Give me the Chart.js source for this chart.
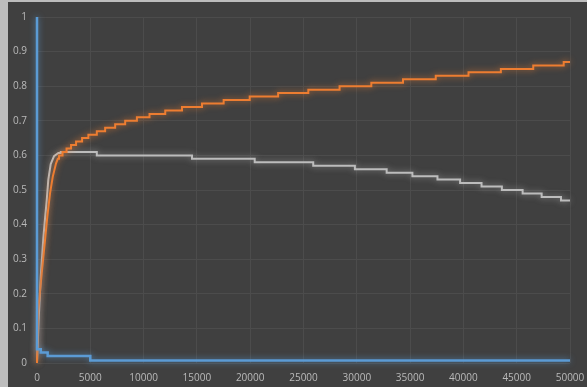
<!DOCTYPE html>
<html>
<head>
<meta charset="utf-8">
<script src="https://cdn.jsdelivr.net/npm/chart.js@4.4.1/dist/chart.umd.min.js"></script>
<style>
  html, body { margin: 0; padding: 0; background: #404040; }
  #wrap { position: relative; width: 587px; height: 387px; }
  canvas { display: block; }
</style>
</head>
<body>
<div id="wrap"><canvas id="c" width="587" height="387"></canvas></div>
<script>
// Axis ticks
const xTicks = [0, 5000, 10000, 15000, 20000, 25000, 30000, 35000, 40000, 45000, 50000];
const yTicks = [0, 0.1, 0.2, 0.3, 0.4, 0.5, 0.6, 0.7, 0.8, 0.9, 1];
const xEnd = 50000;

// Blue series: starts at 1, falls away almost at once
const blueCurveX = [0];
const blueCurveY = [1];
const blueStepX = [0, 350, 1000, 5000];
const blueStepY = [0.04, 0.03, 0.02, 0.007];

// Orange series: fast rise, then a slow staircase climb
const orangeCurveX = [0, 122, 442, 752, 968, 1222, 1476, 1786, 1950];
const orangeCurveY = [0, 0.153, 0.259, 0.355, 0.423, 0.49, 0.538, 0.577, 0.59];
const orangeStepX = [2068, 2397, 2772, 3195, 3665, 4229, 4821, 5611, 6391, 7331, 8271, 9371,
  10555, 12030, 13600, 15480, 17509, 19952, 22621, 25451, 28383, 31362, 34333, 37406,
  40479, 43515, 46551, 49408];
const orangeStepY = [0.60, 0.61, 0.62, 0.63, 0.64, 0.65, 0.66, 0.67, 0.68, 0.69, 0.70, 0.71,
  0.72, 0.73, 0.74, 0.75, 0.76, 0.77, 0.78, 0.79, 0.80, 0.81, 0.82, 0.83,
  0.84, 0.85, 0.86, 0.87];

// Gray series: fast rise to a plateau, then a staircase decline
const grayCurveX = [0, 150, 350, 592, 760, 912, 1062, 1288, 1598, 2002];
const grayCurveY = [0, 0.12, 0.25, 0.36, 0.42, 0.47, 0.53, 0.575, 0.598, 0.607];
const grayStepX = [2228, 5611, 14539, 20423, 25912, 29821, 32801, 35216, 37566, 39690,
  41701, 43609, 45555, 47340, 49154];
const grayStepY = [0.61, 0.60, 0.59, 0.58, 0.57, 0.56, 0.55, 0.54, 0.53, 0.52,
  0.51, 0.50, 0.49, 0.48, 0.47];

// Turn a smooth lead-in plus a list of level changes into line points
function buildPoints(curveX, curveY, stepX, stepY, endX) {
  const pts = curveX.map((x, i) => ({ x: x, y: curveY[i] }));
  let level = curveY[curveY.length - 1];
  stepX.forEach((x, i) => {
    pts.push({ x: x, y: level });
    level = stepY[i];
    pts.push({ x: x, y: level });
  });
  pts.push({ x: endX, y: level });
  return pts;
}

const glowColors = {
  blue: 'rgba(91,155,213,0.75)',
  orange: 'rgba(237,125,49,0.8)',
  gray: 'rgba(200,200,200,0.6)'
};

// Soft halo around each line
const glowPlugin = {
  id: 'glow',
  beforeDatasetDraw(chart, args) {
    const ds = chart.data.datasets[args.index];
    const ctx = chart.ctx;
    ctx.save();
    ctx.shadowColor = glowColors[ds.label];
    ctx.shadowBlur = 6;
    ctx.shadowOffsetX = 0;
    ctx.shadowOffsetY = 0;
  },
  afterDatasetDraw(chart) {
    chart.ctx.restore();
  }
};

// Frame: light edge on the left and top, dark panel elsewhere
const framePlugin = {
  id: 'frame',
  beforeDraw(chart) {
    const ctx = chart.ctx;
    ctx.save();
    ctx.fillStyle = '#bdbdbd';
    ctx.fillRect(0, 0, chart.width, chart.height);
    ctx.fillStyle = '#404040';
    ctx.fillRect(8, 2, chart.width - 8, chart.height - 2);
    ctx.restore();
  }
};

const tickFont = { family: '"Open Sans", sans-serif', size: 10 };
const tickColor = '#bababa';
const gridColor = '#4c4c4c';

new Chart(document.getElementById('c'), {
  type: 'scatter',
  data: {
    datasets: [
      {
        label: 'gray',
        data: buildPoints(grayCurveX, grayCurveY, grayStepX, grayStepY, xEnd),
        borderColor: '#bcbcbc',
        borderWidth: 2,
        showLine: true,
        pointRadius: 0,
        tension: 0,
        clip: false,
        order: 3
      },
      {
        label: 'orange',
        data: buildPoints(orangeCurveX, orangeCurveY, orangeStepX, orangeStepY, xEnd),
        borderColor: '#ed7d31',
        borderWidth: 2,
        showLine: true,
        pointRadius: 0,
        tension: 0,
        clip: false,
        order: 2
      },
      {
        label: 'blue',
        data: buildPoints(blueCurveX, blueCurveY, blueStepX, blueStepY, xEnd),
        borderColor: '#5b9bd5',
        borderWidth: 2.5,
        showLine: true,
        pointRadius: 0,
        tension: 0,
        clip: false,
        order: 1
      }
    ]
  },
  options: {
    responsive: false,
    animation: false,
    events: [],
    layout: { padding: { top: 17, right: 17, left: 0, bottom: 0 } },
    plugins: {
      legend: { display: false },
      tooltip: { enabled: false }
    },
    scales: {
      x: {
        type: 'linear',
        min: 0,
        max: xEnd,
        afterBuildTicks(scale) { scale.ticks = xTicks.map(v => ({ value: v })); },
        afterFit(scale) {
          scale.height = 24;
          scale.paddingLeft = 0;
          scale.paddingRight = 0;
        },
        ticks: {
          color: tickColor,
          font: tickFont,
          padding: 9,
          maxRotation: 0,
          autoSkip: false,
          callback: v => String(v)
        },
        grid: { color: gridColor, lineWidth: 1, drawTicks: false },
        border: { display: false }
      },
      y: {
        type: 'linear',
        min: 0,
        max: 1,
        afterBuildTicks(scale) { scale.ticks = yTicks.map(v => ({ value: v })); },
        afterFit(scale) {
          scale.width = 37;
          scale.paddingTop = 0;
          scale.paddingBottom = 0;
        },
        ticks: {
          color: tickColor,
          font: tickFont,
          padding: 10,
          autoSkip: false,
          callback: v => String(Math.round(v * 10) / 10)
        },
        grid: { color: gridColor, lineWidth: 1, drawTicks: false },
        border: { display: false }
      }
    }
  },
  plugins: [framePlugin, glowPlugin]
});
</script>
</body>
</html>
